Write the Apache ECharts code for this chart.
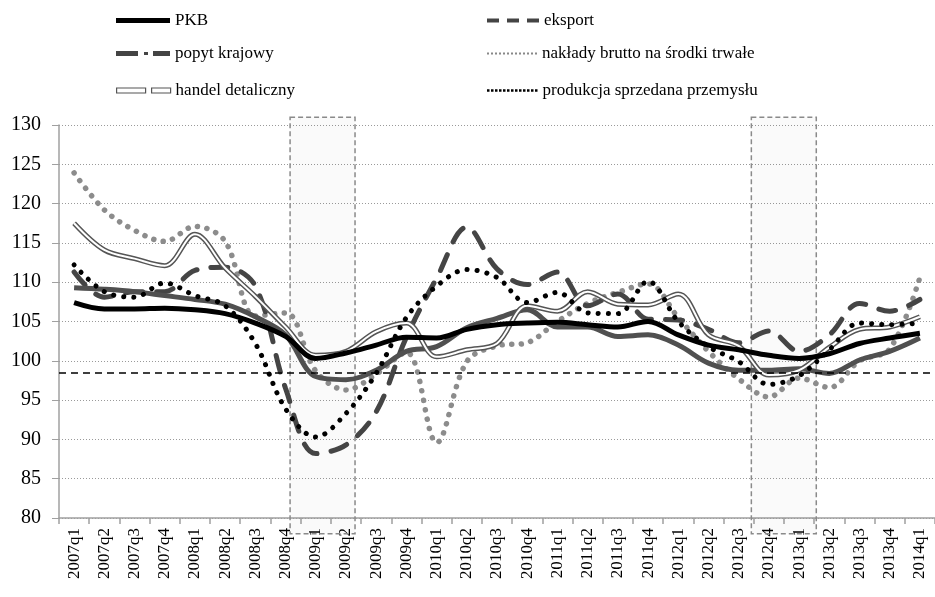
<!DOCTYPE html>
<html>
<head>
<meta charset="utf-8">
<script src="https://cdn.jsdelivr.net/npm/echarts@6/dist/echarts.min.js"></script>
<style>
  html, body { margin: 0; padding: 0; background: #fff; }
  #chart { width: 935px; height: 597px; }
</style>
</head>
<body>
<div id="chart"></div>
<script>
// kwartały
var quarters = ['2007q1', '2007q2', '2007q3', '2007q4', '2008q1', '2008q2', '2008q3', '2008q4',
  '2009q1', '2009q2', '2009q3', '2009q4', '2010q1', '2010q2', '2010q3', '2010q4',
  '2011q1', '2011q2', '2011q3', '2011q4', '2012q1', '2012q2', '2012q3', '2012q4',
  '2013q1', '2013q2', '2013q3', '2013q4', '2014q1'];

var pkb = [107.4, 106.6, 106.6, 106.7, 106.5, 106.0, 104.8, 103.1, 100.3, 101.0, 102.0, 103.0, 102.9, 104.0, 104.6,
  104.8, 104.9, 104.6, 104.3, 105.0, 103.3, 102.0, 101.4, 100.7, 100.3, 100.9, 102.2, 102.9, 103.5];
var eksport = [111.3, 108.1, 108.8, 108.8, 111.5, 111.9, 109.5, 96.5, 88.2, 89.3, 93.5, 103.0, 110.5, 117.0, 111.7,
  109.7, 111.3, 107.0, 108.5, 105.3, 105.2, 104.0, 102.3, 103.8, 101.2, 103.3, 107.3, 106.3, 107.8];
var popyt = [109.3, 109.1, 108.8, 108.3, 107.8, 107.2, 105.6, 103.3, 98.0, 97.6, 98.8, 101.2, 101.8, 104.2, 105.4,
  106.5, 104.3, 104.3, 103.1, 103.3, 102.0, 99.7, 98.8, 98.8, 99.0, 98.4, 100.1, 101.2, 102.9];
var naklady = [123.9, 119.2, 116.6, 115.2, 117.1, 115.2, 105.7, 106.1, 98.7, 96.3, 98.3, 101.1, 89.6, 99.9, 101.9,
  102.3, 105.0, 107.3, 108.7, 109.8, 105.5, 101.2, 97.7, 95.4, 97.8, 96.6, 100.0, 101.5, 110.6];
var handel = [117.5, 114.1, 113.0, 112.1, 116.1, 111.8, 108.2, 104.3, 100.7, 101.2, 103.7, 104.8, 100.5, 101.4, 102.2,
  107.0, 106.3, 108.8, 107.2, 107.1, 108.5, 103.3, 101.9, 98.2, 98.8, 101.7, 104.0, 104.3, 105.6];
var produkcja = [112.2, 108.8, 108.1, 109.9, 108.3, 107.0, 102.2, 93.9, 90.3, 93.3, 98.4, 105.5, 109.5, 111.6, 110.6,
  107.4, 108.7, 106.1, 106.0, 110.1, 105.0, 101.8, 99.9, 97.0, 98.1, 101.4, 104.8, 104.6, 104.8];

// okresy spowolnienia: [od, do] w jednostkach kwartałów, [góra, dół] w jednostkach osi Y
var slowdowns = [[7.65, 9.8, 131, 78], [22.92, 25.07, 131, 78]];
var poziomOdniesienia = 98.5;

var serif = 'Liberation Serif';

function dotsIcon(n, step, size) {
  var p = 'path://';
  for (var i = 0; i < n; i++) {
    p += 'M' + (i * step) + ',0h' + size + 'v' + size + 'h-' + size + 'Z';
  }
  return p;
}

function legendItem(name, left, top, icon, w, h, itemStyle) {
  return {
    data: [name],
    left: left,
    top: top,
    orient: 'horizontal',
    selectedMode: false,
    icon: icon,
    itemWidth: w,
    itemHeight: h,
    itemStyle: itemStyle,
    textStyle: { fontFamily: serif, fontSize: 17, color: '#000' }
  };
}

var chart = echarts.init(document.getElementById('chart'));

var option = {
  animation: false,
  backgroundColor: '#fff',
  legend: [
    legendItem('PKB', 111, 7, 'path://M0,0H54V5H0Z', 54, 5, { color: '#000' }),
    legendItem('popyt krajowy', 111, 40, 'path://M0,0H22V5H0Z M28,1H32V4H28Z M37,0H54V5H37Z', 54, 5, { color: '#444' }),
    legendItem('handel detaliczny', 111, 77, 'path://M0,0H29V5H0Z M35,0H54V5H35Z', 54, 5,
      { color: '#fff', borderColor: '#555', borderWidth: 1.2 }),
    legendItem('eksport', 482, 7, 'path://M0,0H12V4H0Z M20,0H32V4H20Z M40,0H52V4H40Z', 52, 4, { color: '#444' }),
    legendItem('nakłady brutto na środki trwałe', 482, 40, dotsIcon(13, 4, 2), 50, 2, { color: '#888' }),
    legendItem('produkcja sprzedana przemysłu', 482, 77, dotsIcon(13, 4, 2.5), 50.5, 2.5, { color: '#000' })
  ],
  grid: { left: 59, top: 125, width: 879, height: 393 },
  xAxis: [
    {
      type: 'category',
      data: quarters,
      boundaryGap: true,
      axisLine: { lineStyle: { color: '#a0a0a0', width: 1.5 } },
      axisTick: { show: true, length: 6, lineStyle: { color: '#a0a0a0', width: 1.5 } },
      axisLabel: { interval: 0, rotate: 90, margin: 10, fontFamily: serif, fontSize: 17, color: '#000' },
      splitLine: { show: false }
    },
    { type: 'value', min: 0, max: 29, show: false }
  ],
  yAxis: {
    type: 'value',
    min: 80,
    max: 130,
    interval: 5,
    axisLine: { show: true, lineStyle: { color: '#a0a0a0', width: 1.5 } },
    axisTick: { show: true, length: 7, lineStyle: { color: '#a0a0a0' } },
    axisLabel: { margin: 18, fontFamily: serif, fontSize: 20, color: '#000' },
    splitLine: { show: true, lineStyle: { color: '#9a9a9a', width: 1, type: [1, 2] } }
  },
  series: [
    {
      type: 'custom',
      name: 'spowolnienie',
      xAxisIndex: 1,
      yAxisIndex: 0,
      silent: true,
      z: 1,
      data: slowdowns,
      renderItem: function (params, api) {
        var p0 = api.coord([api.value(0), api.value(2)]);
        var p1 = api.coord([api.value(1), api.value(3)]);
        return {
          type: 'rect',
          shape: { x: p0[0], y: p0[1], width: p1[0] - p0[0], height: p1[1] - p0[1] },
          style: { fill: 'rgba(0,0,0,0.018)', stroke: '#8a8a8a', lineWidth: 1.5, lineDash: [5, 3] }
        };
      }
    },
    {
      name: 'nakłady brutto na środki trwałe',
      type: 'line', data: naklady, smooth: 0.35, symbol: 'none',
      lineStyle: { color: '#8c8c8c', width: 5.5, type: [0.1, 9.5], cap: 'round' },
      itemStyle: { color: '#8c8c8c' }
    },
    {
      name: 'eksport',
      type: 'line', data: eksport, smooth: 0.35, symbol: 'none',
      lineStyle: { color: '#454545', width: 5, type: [17, 14], cap: 'round' },
      itemStyle: { color: '#454545' }
    },
    {
      name: 'popyt krajowy',
      type: 'line', data: popyt, smooth: 0.35, symbol: 'none',
      lineStyle: { color: '#505050', width: 5 },
      itemStyle: { color: '#505050' }
    },
    {
      name: 'handel detaliczny',
      type: 'line', data: handel, smooth: 0.35, symbol: 'none',
      lineStyle: { color: '#555', width: 5 },
      itemStyle: { color: '#555' }
    },
    {
      name: 'handel-srodek',
      type: 'line', data: handel, smooth: 0.35, symbol: 'none',
      lineStyle: { color: '#fff', width: 2 },
      itemStyle: { color: '#fff' }
    },
    {
      name: 'PKB',
      type: 'line', data: pkb, smooth: 0.35, symbol: 'none',
      lineStyle: { color: '#000', width: 5 },
      itemStyle: { color: '#000' },
      markLine: {
        silent: true,
        symbol: 'none',
        label: { show: false },
        lineStyle: { color: '#000', width: 1.5, type: [7, 5] },
        data: [{ yAxis: poziomOdniesienia }]
      }
    },
    {
      name: 'produkcja sprzedana przemysłu',
      type: 'line', data: produkcja, smooth: 0.35, symbol: 'none',
      lineStyle: { color: '#000', width: 5, type: [0.1, 10], cap: 'round' },
      itemStyle: { color: '#000' }
    }
  ]
};

chart.setOption(option);
</script>
</body>
</html>
